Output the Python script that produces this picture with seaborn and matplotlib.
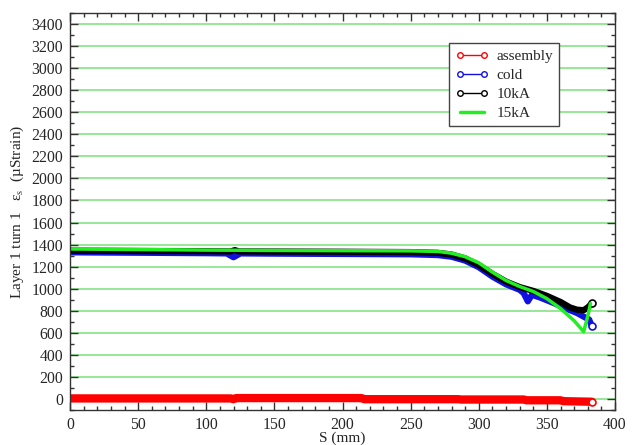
import numpy as np
import pandas as pd
import matplotlib
matplotlib.use("Agg")
import matplotlib.pyplot as plt
from matplotlib.lines import Line2D
from matplotlib.ticker import MultipleLocator
import seaborn as sns

# datos
s_assembly = [0, 60, 118, 120, 122, 170, 214, 216, 285, 287, 320, 333, 335, 360, 362, 383]
assembly = [5, 5, 5, -2, 8, 8, 8, -2, -2, -5, -5, -5, -12, -12, -20, -25]

s_cold = [0, 20, 50, 100, 115, 120, 125, 150, 200, 250, 270, 280, 290, 300, 310, 320,
          330, 333, 336, 339, 345, 355, 365, 372, 378, 381, 383]
cold = [1330, 1328, 1326, 1322, 1320, 1285, 1320, 1318, 1315, 1312, 1305, 1290, 1255, 1195, 1110, 1040,
        990, 960, 885, 945, 920, 870, 815, 780, 740, 720, 660]

s_10ka = [0, 50, 100, 118, 121, 124, 150, 200, 250, 270, 280, 290, 300, 310, 320, 330,
          340, 350, 360, 367, 372, 377, 380, 383]
v_10ka = [1345, 1342, 1340, 1338, 1350, 1338, 1337, 1335, 1332, 1325, 1310, 1275, 1215, 1135, 1065, 1015,
          980, 935, 880, 830, 810, 805, 830, 866]

s_15ka = [0, 50, 100, 150, 200, 250, 270, 280, 290, 300, 310, 320, 330, 340, 350, 360, 370, 377, 380, 382]
v_15ka = [1360, 1355, 1350, 1347, 1345, 1343, 1338, 1322, 1290, 1235, 1150, 1075, 1020, 975, 910, 820,
          710, 610, 750, 866]

sns.set_style("ticks")
plt.rcParams['font.family'] = ['Liberation Serif', 'DejaVu Serif']
plt.rcParams['mathtext.fontset'] = 'stix'

fig = plt.figure(figsize=(6.33, 4.45), dpi=100)
ax = fig.add_axes([70 / 633, 1 - 410 / 445, 545 / 633, 397 / 445])

# lineas de rejilla horizontales verdes
for yv in range(0, 3401, 200):
    ax.axhline(yv, color='#7be07b', lw=1.1, zorder=0)

sns.lineplot(x=s_assembly, y=assembly, ax=ax, color='red', lw=6, sort=False,
             marker='o', markevery=[-1], markerfacecolor='white', markeredgecolor='red', ms=5, mew=1.2)
sns.lineplot(x=s_cold, y=cold, ax=ax, color='#1010e0', lw=4.5, sort=False,
             marker='o', markevery=[-1], markerfacecolor='white', markeredgecolor='#1010e0', ms=5, mew=1.2)
sns.lineplot(x=s_10ka, y=v_10ka, ax=ax, color='black', lw=4.5, sort=False,
             marker='o', markevery=[-1], markerfacecolor='white', markeredgecolor='black', ms=5, mew=1.2)
sns.lineplot(x=s_15ka, y=v_15ka, ax=ax, color='#22ee22', lw=2.5, sort=False)

ax.set_xlim(0, 400)
ax.set_ylim(-100, 3500)
ax.xaxis.set_major_locator(MultipleLocator(50))
ax.xaxis.set_minor_locator(MultipleLocator(10))
ax.yaxis.set_major_locator(MultipleLocator(200))
ax.yaxis.set_minor_locator(MultipleLocator(100))
ax.set_yticks(range(0, 3401, 200))
ax.tick_params(which='both', direction='in', top=True, right=True, labelsize=11.3, width=1,
               color='#333333', pad=5)
ax.tick_params(which='major', length=6)
ax.tick_params(which='minor', length=3)
for sp in ax.spines.values():
    sp.set_linewidth(1)
    sp.set_color('#333333')

ax.set_xlabel('S (mm)', fontsize=11, labelpad=-1)
ax.set_ylabel(r'Layer 1 turn 1   ε$_\mathrm{s}$  (µStrain)', fontsize=11, labelpad=4)

handles = [
    Line2D([], [], color='red', lw=1, marker='o', mfc='white', mec='red', ms=4),
    Line2D([], [], color='#1010e0', lw=1, marker='o', mfc='white', mec='#1010e0', ms=4),
    Line2D([], [], color='black', lw=1, marker='o', mfc='white', mec='black', ms=4),
    Line2D([], [], color='#22ee22', lw=2.5),
]
leg = ax.legend(handles, ['assembly', 'cold', '10kA', '15kA'], loc='upper left',
                bbox_to_anchor=(376 / 545, 1 - 27 / 397), numpoints=2, fancybox=False,
                framealpha=1, edgecolor='#444444', fontsize=11, handlelength=2.2,
                borderpad=0.4, labelspacing=0.35, handletextpad=0.5, borderaxespad=0.2)
leg.get_frame().set_linewidth(1)

plt.savefig('out.png', dpi=100)
